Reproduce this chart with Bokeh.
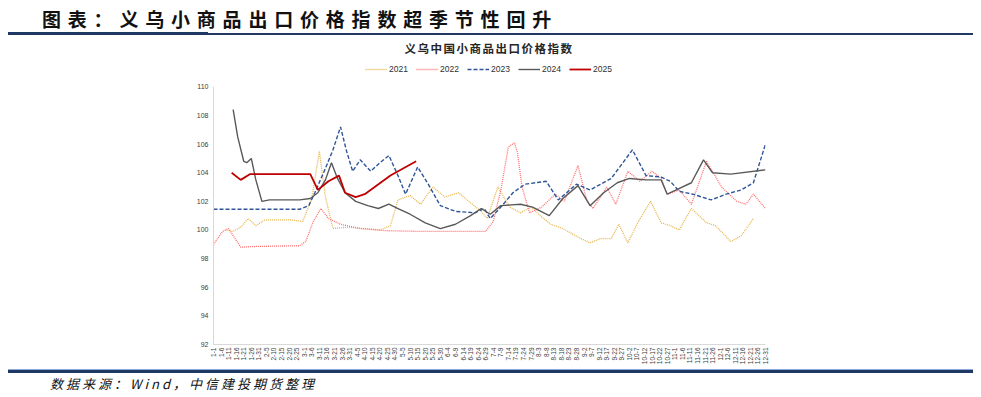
import pandas as pd
from bokeh.plotting import figure
from bokeh.models import (Range1d, FixedTicker, Legend, LegendItem, Div, ColumnDataSource)
from bokeh.layouts import column
from bokeh.embed import file_html
from bokeh.resources import INLINE

# ---------------- data (MM-DD dates, price index values) ----------------
dates_2021 = ["01-09", "01-14", "01-19", "01-24", "01-29", "02-04", "02-21", "02-29", "03-06", "03-11",
              "03-15", "03-20", "03-30", "04-20", "04-27", "05-02", "05-10", "05-17", "05-25", "06-02",
              "06-11", "06-19", "06-26", "06-30", "07-07", "07-15", "07-22", "07-29", "08-04", "08-11",
              "08-19", "08-29", "09-06", "09-13", "09-20", "09-25", "10-01", "10-08", "10-16", "10-23",
              "10-29", "11-04", "11-12", "11-22", "11-28", "12-08", "12-15", "12-23"]
vals_2021 = [100.0, 99.9, 100.2, 100.8, 100.3, 100.7, 100.7, 100.6, 102.2, 105.5,
             102.3, 100.1, 100.2, 100.0, 100.3, 102.1, 102.4, 101.8, 103.0, 102.3,
             102.6, 101.9, 101.3, 100.8, 103.0, 101.6, 101.2, 101.6, 101.0, 100.4,
             100.1, 99.5, 99.1, 99.4, 99.4, 100.4, 99.1, 100.6, 102.0, 100.5,
             100.3, 100.0, 101.5, 100.5, 100.3, 99.2, 99.6, 100.8]

dates_2022 = ["01-01", "01-07", "01-11", "01-14", "01-19", "01-29", "02-27", "03-02", "03-07", "03-12",
              "03-17", "03-25", "04-07", "04-24", "05-17", "06-29", "07-04", "07-09", "07-14", "07-18",
              "07-20", "07-23", "07-28", "08-05", "08-14", "08-20", "08-29", "09-04", "09-08", "09-17",
              "09-23", "10-01", "10-09", "10-17", "10-23", "10-27", "11-04", "11-12", "11-22", "12-02",
              "12-12", "12-18", "12-23", "12-31"]
vals_2022 = [99.0, 99.9, 100.1, 99.6, 98.8, 98.85, 98.9, 99.2, 100.6, 101.5,
             100.8, 100.4, 100.1, 99.95, 99.9, 99.9, 100.6, 102.8, 105.8, 106.1,
             105.4, 103.0, 101.2, 101.6, 102.5, 102.0, 104.5, 102.0, 101.5, 103.0,
             101.8, 104.1, 103.4, 104.1, 103.6, 102.5, 102.8, 101.8, 104.8, 103.0,
             102.0, 101.8, 102.5, 101.5]

dates_2023 = ["01-01", "02-01", "02-27", "03-04", "03-08", "03-15", "03-20", "03-25", "03-29", "04-02",
              "04-07", "04-14", "04-20", "04-26", "05-02", "05-07", "05-15", "05-22", "05-30", "06-09",
              "06-22", "06-28", "07-02", "07-09", "07-17", "07-25", "08-08", "08-16", "08-28", "09-06",
              "09-20", "10-04", "10-13", "10-23", "10-29", "11-04", "11-13", "11-25", "12-05", "12-15",
              "12-23", "12-31"]
vals_2023 = [101.45, 101.45, 101.45, 101.7, 102.6, 104.3, 105.6, 107.2, 105.5, 104.1,
             104.9, 104.1, 104.7, 105.2, 103.8, 102.5, 104.4, 103.2, 101.7, 101.3,
             101.2, 101.5, 100.8, 101.6, 102.6, 103.2, 103.4, 102.1, 103.2, 102.8,
             103.6, 105.6, 103.8, 103.7, 103.4, 102.7, 102.5, 102.1, 102.5, 102.8,
             103.3, 106.0]

dates_2024 = ["01-14", "01-17", "01-21", "01-23", "01-26", "01-29", "02-02", "02-07", "02-27", "03-05",
              "03-10", "03-15", "03-19", "03-23", "03-28", "04-04", "04-12", "04-19", "04-26", "05-02",
              "05-10", "05-20", "05-30", "06-09", "06-19", "06-26", "07-02", "07-09", "07-22", "07-30",
              "08-10", "08-19", "08-29", "09-06", "09-15", "09-24", "10-02", "10-13", "10-23", "10-27",
              "11-02", "11-12", "11-20", "11-26", "12-08", "12-31"]
vals_2024 = [108.4, 106.5, 104.8, 104.7, 105.0, 103.5, 102.0, 102.1, 102.1, 102.2,
             102.6, 103.5, 104.7, 103.6, 102.6, 102.0, 101.7, 101.5, 101.8, 101.5,
             101.1, 100.5, 100.1, 100.4, 101.0, 101.5, 101.1, 101.7, 101.8, 101.6,
             101.0, 102.2, 103.1, 101.7, 102.6, 103.3, 103.6, 103.5, 103.5, 102.5,
             102.8, 103.3, 104.9, 104.0, 103.9, 104.2]

dates_2025 = ["01-13", "01-19", "01-25", "02-07", "02-27", "03-05", "03-10", "03-17", "03-24", "03-28",
              "04-04", "04-10", "04-27", "05-14"]
vals_2025 = [104.0, 103.5, 103.9, 103.9, 103.9, 103.9, 102.8, 103.4, 103.8, 102.6,
             102.3, 102.5, 103.8, 104.8]

# category tick labels every 5 days (calendar of a leap year, as in the source axis)
tick_dates = pd.date_range("2024-01-01", "2024-12-31", freq="5D")
tick_labels = [f"{d.month}-{d.day}" for d in tick_dates]
tick_pos = [int(d.dayofyear - 1) for d in tick_dates]


def to_day(dates):
    return [int(pd.Timestamp("2024-" + s).dayofyear - 1) for s in dates]


W = 973

header = Div(
    width=W, height=58, margin=0,
    text=(
        '<div style="position:relative;width:973px;height:58px;font-family:\'Noto Sans CJK SC\';">'
        '<div style="position:absolute;left:42px;top:5px;font-size:19px;font-weight:bold;'
        'letter-spacing:6.8px;color:#111111;white-space:nowrap;">图表：义乌小商品出口价格指数超季节性回升</div>'
        '<div style="position:absolute;left:8px;top:33px;width:965px;height:2px;background:#1F3864;"></div>'
        '<div style="position:absolute;left:8px;top:32px;width:200px;height:3px;background:#1F3864;"></div>'
        '<div style="position:absolute;left:0px;top:40px;width:978px;text-align:center;font-size:11.5px;'
        'font-weight:bold;letter-spacing:1.5px;color:#262626;white-space:nowrap;">义乌中国小商品出口价格指数</div>'
        '</div>'
    ),
)

p = figure(
    width=W, height=309,
    output_backend="svg", toolbar_location=None,
    x_range=Range1d(0, 365), y_range=Range1d(92, 111.7),
    min_border_left=213, min_border_right=208, min_border_top=4, min_border_bottom=22,
)
p.outline_line_color = None
p.xgrid.visible = False
p.ygrid.visible = False
p.background_fill_color = "white"
p.border_fill_color = "white"

series = [
    ("2021", dates_2021, vals_2021, "#E6B54A", "1 1", 1.3),
    ("2022", dates_2022, vals_2022, "#FF6F6F", "1 1", 1.3),
    ("2023", dates_2023, vals_2023, "#2F5597", "4 2", 1.4),
    ("2024", dates_2024, vals_2024, "#595959", "solid", 1.4),
    ("2025", dates_2025, vals_2025, "#C00000", "solid", 1.8),
]
items = []
for name, d, v, col, dash, w in series:
    src = ColumnDataSource(dict(x=to_day(d), y=v))
    r = p.line("x", "y", source=src, line_color=col, line_width=w, line_dash=dash)
    items.append(LegendItem(label=name, renderers=[r]))

legend = Legend(items=items, orientation="horizontal", location="top_center",
                label_text_font="Liberation Sans", label_text_font_size="8.5px",
                label_text_color="#303030", glyph_width=22, glyph_height=10,
                label_height=10, label_standoff=2, spacing=7, padding=2, margin=0,
                border_line_alpha=0, background_fill_alpha=0)
p.add_layout(legend, "center")

for ax in (p.xaxis[0], p.yaxis[0]):
    ax.axis_line_color = "#D9D9D9"
    ax.major_tick_line_color = None
    ax.minor_tick_line_color = None
    ax.major_tick_out = 0
    ax.major_tick_in = 0
    ax.minor_tick_out = 0
    ax.minor_tick_in = 0
    ax.major_label_text_font = "Liberation Sans"
    ax.major_label_text_color = "#404040"

p.yaxis.ticker = FixedTicker(ticks=list(range(92, 111, 2)))
p.yaxis.bounds = (92, 110)
p.yaxis.major_label_text_font_size = "7px"
p.yaxis.major_label_standoff = 5

p.xaxis.ticker = FixedTicker(ticks=tick_pos)
p.xaxis.major_label_overrides = {t: l for t, l in zip(tick_pos, tick_labels)}
p.xaxis.major_label_orientation = 1.5707963
p.xaxis.major_label_text_font_size = "6.5px"
p.xaxis.major_label_standoff = 3

footer = Div(
    width=W, height=24, margin=0,
    text=(
        '<div style="position:relative;width:973px;height:24px;">'
        '<div style="position:absolute;left:8px;top:2px;width:965px;height:1px;background:#8EA9DB;"></div>'
        '<div style="position:absolute;left:8px;top:3px;width:965px;height:3px;background:#1F3864;"></div>'
        '<div style="position:absolute;left:50px;top:8px;font-family:\'Noto Sans CJK SC\';font-size:13px;'
        'font-style:italic;letter-spacing:3px;color:#111111;white-space:nowrap;">数据来源：Wind，中信建投期货整理</div>'
        '</div>'
    ),
)

layout = column(header, p, footer, spacing=0)
open("out.html", "w").write(file_html(layout, INLINE))
